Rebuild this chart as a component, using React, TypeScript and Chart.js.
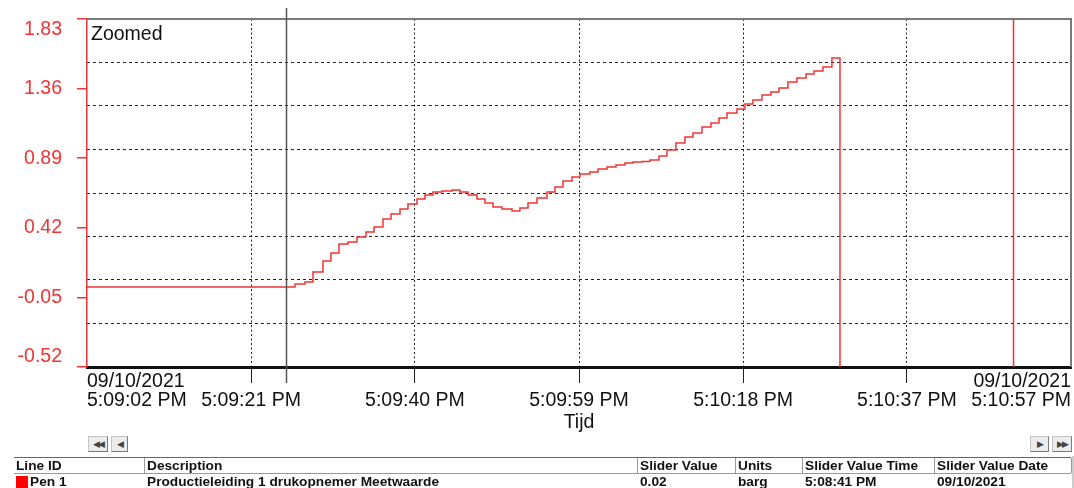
import React, { useEffect, useRef } from 'react';
import { Chart, registerables } from 'chart.js';

Chart.register(...registerables);

// ---- data ----
const xTickSeconds = [0, 19.17, 38.33, 57.5, 76.67, 95.83, 115];
const xTickTimes = ['5:09:02 PM', '5:09:21 PM', '5:09:40 PM', '5:09:59 PM', '5:10:18 PM', '5:10:37 PM', '5:10:57 PM'];
const xTickDates = ['09/10/2021', '', '', '', '', '', '09/10/2021'];
const yTicks = [-0.52, -0.05, 0.42, 0.89, 1.36, 1.83];
const yGridLines = [-0.226, 0.068, 0.361, 0.655, 0.949, 1.243, 1.537];
const cursorSecond = 23.26;
const endMarkerSecond = 108.2;
const axisTitle = 'Tijd';
const zoomLabel = 'Zoomed';

const sampleSeconds = [
  -21, 24.31, 25.48, 26.41, 27.58, 28.51, 29.45, 30.5, 31.55, 32.6, 33.54,
  34.59, 35.53, 36.58, 37.51, 38.57, 39.5, 40.43, 41.49, 42.66, 43.59,
  44.53, 45.58, 46.51, 47.45, 48.5, 49.67, 50.6, 51.54, 52.59, 53.76,
  54.69, 55.63, 56.68, 57.61, 58.78, 59.72, 60.77, 61.82, 62.87, 63.81,
  64.86, 65.79, 66.85, 67.78, 68.83, 69.88, 70.82, 71.87, 72.92, 73.86,
  74.79, 75.96, 76.9, 77.83, 78.88, 79.93, 80.87, 81.92, 82.97, 84.03,
  84.96, 86.01, 87.06, 88.0,
];
const pressureValues = [
  0.02, 0.041, 0.054, 0.122, 0.196, 0.25, 0.311, 0.324, 0.358, 0.392, 0.425,
  0.479, 0.513, 0.547, 0.581, 0.615, 0.642, 0.662, 0.669, 0.675, 0.662,
  0.642, 0.615, 0.588, 0.561, 0.547, 0.534, 0.554, 0.588, 0.621, 0.662,
  0.696, 0.736, 0.763, 0.783, 0.797, 0.817, 0.831, 0.844, 0.858, 0.864,
  0.868, 0.878, 0.905, 0.945, 0.993, 1.033, 1.06, 1.101, 1.128, 1.161,
  1.195, 1.222, 1.256, 1.283, 1.317, 1.337, 1.364, 1.405, 1.432, 1.459,
  1.479, 1.506, 1.567, -0.9,
];

const tableHeaders = ['Line ID', 'Description', 'Slider Value', 'Units', 'Slider Value Time', 'Slider Value Date'];
const tableRow = ['Pen 1', 'Productieleiding 1 drukopnemer Meetwaarde', '0.02', 'barg', '5:08:41 PM', '09/10/2021'];

// ---- layout / style ----
const colLefts = [14, 144, 637, 735, 802, 934];
const TABLE_RIGHT = 1071;
const FONT = '"Liberation Sans", Arial, sans-serif';
const RED = '#f03434';
const GRID = '#222';

const overlayPlugin = {
  id: 'overlay',
  afterDraw(chart: any) {
    const { ctx, chartArea: a, scales } = chart;
    const xs = scales.x;
    const ys = scales.y;
    ctx.save();
    // top & right frame
    ctx.strokeStyle = '#7a7a7a';
    ctx.lineWidth = 2;
    ctx.beginPath();
    ctx.moveTo(a.left, a.top);
    ctx.lineTo(a.right, a.top);
    ctx.lineTo(a.right, a.bottom);
    ctx.stroke();

    // cursor line
    const cx = Math.round(xs.getPixelForValue(cursorSecond)) + 0.5;
    ctx.strokeStyle = '#555';
    ctx.lineWidth = 1.5;
    ctx.beginPath();
    ctx.moveTo(cx, 8);
    ctx.lineTo(cx, a.bottom + 16);
    ctx.stroke();

    // end marker
    const ex = Math.round(xs.getPixelForValue(endMarkerSecond)) + 0.5;
    ctx.strokeStyle = RED;
    ctx.lineWidth = 1.5;
    ctx.beginPath();
    ctx.moveTo(ex, a.top);
    ctx.lineTo(ex, a.bottom);
    ctx.stroke();

    // Zoomed label
    ctx.fillStyle = '#111';
    ctx.font = `19.5px ${FONT}`;
    ctx.textAlign = 'left';
    ctx.textBaseline = 'middle';
    ctx.fillText(zoomLabel, a.left + 4, a.top + 16);

    // y labels
    ctx.fillStyle = RED;
    ctx.textAlign = 'right';
    yTicks.forEach((v) => {
      const py = ys.getPixelForValue(v);
      const ly = Math.min(Math.max(py, a.top + 11), a.bottom - 10);
      ctx.fillText(v.toFixed(2), a.left - 25, ly);
    });

    // x labels
    ctx.fillStyle = '#111';
    xTickSeconds.forEach((s, i) => {
      const px = xs.getPixelForValue(s);
      let align: CanvasTextAlign = 'center';
      let tx = px;
      if (i === 0) { align = 'left'; tx = px; }
      if (i === xTickSeconds.length - 1) { align = 'right'; tx = px; }
      ctx.textAlign = align;
      if (xTickDates[i]) ctx.fillText(xTickDates[i], tx, a.bottom + 15);
      ctx.fillText(xTickTimes[i], tx, a.bottom + 34);
    });

    // axis title
    ctx.textAlign = 'center';
    ctx.fillText(axisTitle, (a.left + a.right) / 2, a.bottom + 56);
    ctx.restore();
  },
};

export default function App() {
  const canvasRef = useRef<HTMLCanvasElement | null>(null);

  useEffect(() => {
    document.body.style.margin = '0';
    const canvas = canvasRef.current;
    if (!canvas) return;
    const lastX = xTickSeconds.length - 1;
    const chart = new Chart(canvas, {
      type: 'line',
      data: {
        datasets: [
          {
            data: sampleSeconds.map((t, i) => ({ x: t, y: pressureValues[i] })),
            stepped: true,
            borderColor: RED,
            borderWidth: 1.5,
            pointRadius: 0,
            fill: false,
            xAxisID: 'x',
            yAxisID: 'y',
          },
        ],
      },
      options: {
        responsive: false,
        animation: false,
        devicePixelRatio: 1,
        layout: { padding: { left: 0, right: 3, top: 19, bottom: 105 } },
        plugins: {
          legend: { display: false },
          tooltip: { enabled: false },
          title: { display: false },
        },
        scales: {
          x: {
            type: 'linear',
            position: 'bottom',
            min: 0,
            max: 115,
            afterBuildTicks: (s: any) => {
              s.ticks = xTickSeconds.map((v) => ({ value: v }));
            },
            afterFit: (s: any) => {
              s.height = 16;
            },
            ticks: { display: false },
            grid: {
              color: (c: any) => (c.index === 0 || c.index === lastX ? 'rgba(0,0,0,0)' : GRID),
              lineWidth: 1,
              tickLength: 16,
              drawOnChartArea: true,
              drawTicks: true,
            },
            border: { display: true, color: '#111', width: 3, dash: [2, 2.5] },
          },
          y: {
            type: 'linear',
            position: 'left',
            min: -0.52,
            max: 1.83,
            afterBuildTicks: (s: any) => {
              s.ticks = yTicks.map((v) => ({ value: v }));
            },
            afterFit: (s: any) => {
              s.width = 87;
            },
            ticks: { display: false },
            grid: { drawOnChartArea: false, drawTicks: true, tickLength: 10, color: RED, lineWidth: 1.5 },
            border: { display: true, color: RED, width: 1.5 },
          },
          yGrid: {
            type: 'linear',
            position: 'left',
            min: -0.52,
            max: 1.83,
            afterBuildTicks: (s: any) => {
              s.ticks = yGridLines.map((v) => ({ value: v }));
            },
            afterFit: (s: any) => {
              s.width = 0;
            },
            ticks: { display: false },
            grid: { drawTicks: false, color: GRID, lineWidth: 1 },
            border: { display: false, dash: [3, 3] },
          },
        },
      } as any,
      plugins: [overlayPlugin],
    });
    return () => chart.destroy();
  }, []);

  const btn = (left: number, width: number, glyph: string) => (
    <div
      style={{
        position: 'absolute',
        left,
        top: 436,
        width,
        height: 16,
        background: '#ececec',
        border: '1px solid #c4c4c4',
        borderBottomColor: '#7a7a7a',
        borderRightColor: '#7a7a7a',
        boxSizing: 'border-box',
        fontFamily: '"DejaVu Sans", sans-serif',
        fontSize: 9,
        color: '#444',
        lineHeight: '14px',
        textAlign: 'center',
        letterSpacing: -2,
      }}
    >
      {glyph}
    </div>
  );

  const cellText = (left: number, top: number, text: string) => (
    <div
      key={`${left}-${top}`}
      style={{
        position: 'absolute',
        left,
        top,
        fontFamily: FONT,
        fontWeight: 'bold',
        fontSize: 13.7,
        lineHeight: '15px',
        color: '#111',
        whiteSpace: 'nowrap',
      }}
    >
      {text}
    </div>
  );

  return (
    <div style={{ position: 'relative', width: 1074, height: 488, overflow: 'hidden', background: '#fff' }}>
      <canvas ref={canvasRef} width={1074} height={488} style={{ position: 'absolute', left: 0, top: 0 }} />
      {btn(88, 20, '\u25C0\u25C0')}
      {btn(111, 17, '\u25C0')}
      {btn(1030, 19, '\u25B6')}
      {btn(1052, 20, '\u25B6\u25B6')}
      {/* table frame */}
      <div style={{ position: 'absolute', left: colLefts[0], top: 457, width: TABLE_RIGHT - colLefts[0], height: 1, background: '#666' }} />
      <div style={{ position: 'absolute', left: colLefts[0], top: 473, width: TABLE_RIGHT - colLefts[0], height: 1, background: '#999' }} />
      {colLefts.slice(1).map((l) => (
        <div key={`sep${l}`} style={{ position: 'absolute', left: l, top: 458, width: 1, height: 15, background: '#999' }} />
      ))}
      <div style={{ position: 'absolute', left: TABLE_RIGHT, top: 458, width: 1, height: 15, background: '#999' }} />
      <div style={{ position: 'absolute', left: 1072, top: 456, width: 2, height: 32, background: '#ccc' }} />
      {tableHeaders.map((h, i) => cellText(colLefts[i] + (i === 0 ? 2 : 3), 458, h))}
      <div style={{ position: 'absolute', left: 16, top: 476, width: 12, height: 12, background: '#ff0000' }} />
      {tableRow.map((v, i) => cellText(i === 0 ? 30 : colLefts[i] + 3, 474, v))}
    </div>
  );
}
